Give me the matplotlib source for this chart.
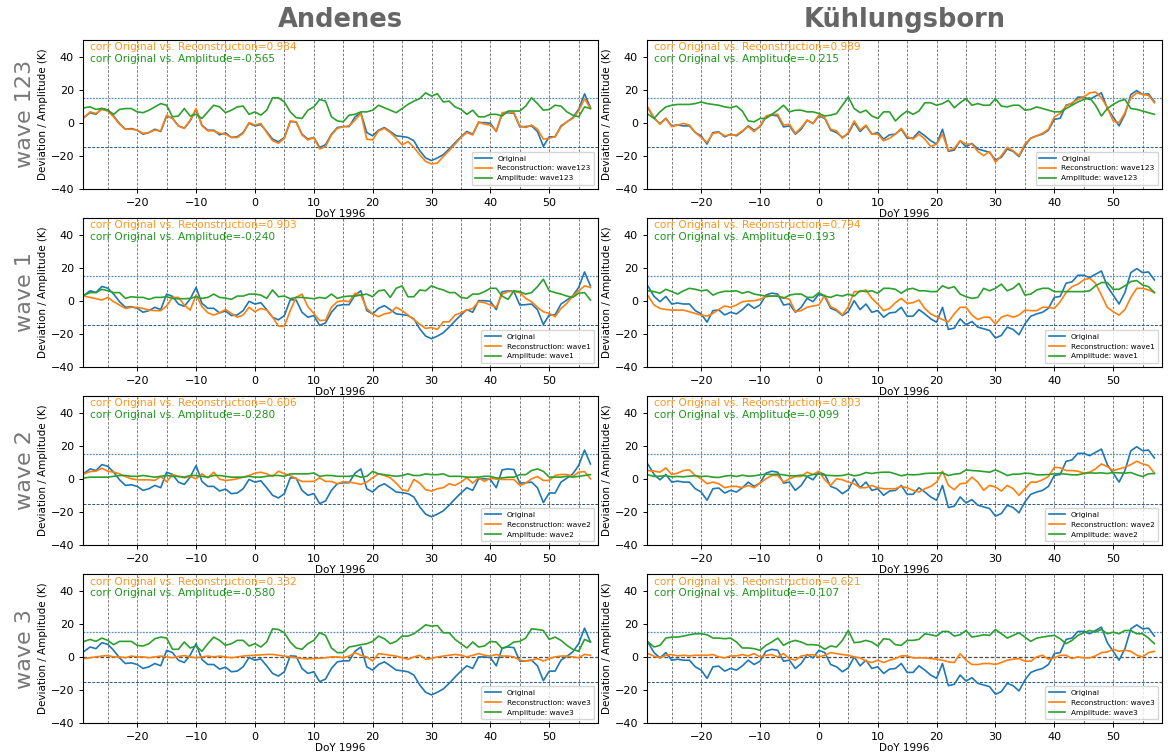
import numpy as np
import matplotlib
matplotlib.use("Agg")
import matplotlib.pyplot as plt

days = np.arange(-29, 58)

stations = ["Andenes", "Kühlungsborn"]
waves = ["wave123", "wave1", "wave2", "wave3"]
row_labels = ["wave 123", "wave 1", "wave 2", "wave 3"]

and_orig = [3.4, 6, 5, 8.6, 7.6, 4, -0.6, -4, -3.6, -4.6,
            -7, -6, -4, -5.4, 4, 2.6, -2, -3.4, 1, 8,
            -1.6, -4.6, -4.6, -7.4, -6.2, -9, -8.6, -6, -0.4, -2,
            -1.2, -5.4, -10, -11.6, -9, 0.6, 0.4, -7, -10, -9,
            -15, -13.4, -7, -3, -2.4, -2.4, 3.4, 6, -6, -8,
            -4.6, -3, -5.4, -8, -8.4, -9, -11, -17, -21.4, -23,
            -21.4, -19.4, -16, -12.2, -8.6, -5.4, -7, 0, 0, -0.4,
            -5.4, 5.4, 6, 5.6, -2.6, -2.4, -2, -5.4, -14.4, -8.6,
            -8.6, -2, 0.4, 3, 8, 17.4, 9]

and_rec123 = [3, 6.5, 5.5, 8, 7, 3.5, -1, -4, -4, -4.5,
              -6.5, -6, -4.5, -5, 4.5, 2.5, -2, -3.5, 1.5, 8.5,
              -2, -5, -5, -6.5, -7, -9, -9, -6.5, 0, -1.5,
              -0.5, -6, -11, -12.5, -9.5, 1, 0.5, -7.5, -10.5, -9,
              -16, -14.5, -7.5, -3.5, -2.5, -2, 1.5, 5.5, -10, -10.5,
              -5, -3.5, -6, -9.5, -13.5, -11.5, -15, -19.5, -23.5, -25,
              -24.5, -20.5, -17, -13, -9, -6, -7.5, 0.5, -1, -1.5,
              -5, 6, 6.5, 6, -2, -3, -1.5, -4, -10, -9.5,
              -8.5, -2.5, 0.5, 2.5, 7, 14.5, 8.5]

and_amp123 = [9, 9.5, 8, 8.5, 7.5, 5, 8, 8.5, 8.5, 6.5,
              6, 7.5, 9.5, 11.5, 10.5, 3.5, 4, 8.5, 4, 5,
              2.5, 6.5, 10.5, 9.5, 6, 7.5, 9.5, 10, 5, 6.5,
              4.5, 7.5, 15, 15, 12.5, 6.5, 3, 2.5, 7.5, 9.5,
              14, 13, 3.5, 1, 0.5, 4.5, 5, 6.5, 6.5, 7.5,
              10.5, 9, 7.5, 6, 8.5, 11, 13, 14.5, 18, 16,
              17.5, 12.5, 13, 9.5, 8, 5, 7.5, 3.5, 3.5, 5,
              5, 4, 7, 7, 7, 10, 15, 11.5, 7.5, 8,
              10.5, 10, 6.5, 4.5, 3.5, 9.5, 8.5]

and_rec1 = [2.8, 2, 1.2, 0.4, 2, -0.6, -2.6, -4.7, -4, -4,
            -4.7, -5.7, -6, -6, -3.2, 2, 2, -2.6, -5.7, 3.4,
            -3.6, -7.3, -8.7, -7.3, -5.3, -7.7, -10, -8.7, -4, -6.7,
            -4.7, -5.7, -10, -15.4, -15.4, -6, 2, 4, -3.6, -7.7,
            -12, -11.8, -4, -0.6, 0, -0.6, 4.5, 3.4, -4.7, -8,
            -9.7, -8, -7.3, -4, -6, -8.7, -11.4, -14.2, -16.8, -16.2,
            -17.4, -12.8, -12.8, -8.7, -7.3, -5.7, -4.7, -0.6, -1.2, -2.6,
            -4, 4, 5.5, 5.5, 4.9, 1.4, -0.6, -4, -6.7, -7.7,
            -9.7, -4.7, -1.6, 2.8, 6, 9, 8]

and_amp1 = [3.4, 4.9, 4.9, 6.9, 6, 4.9, 4.9, 1.4, 2.4, 2,
            2, 0.8, 2, 2, 2.4, 1.4, 1.2, 1.2, 1.4, 2.4,
            1.4, 2, 4, 2, 1.6, 0.8, 2.8, 2.8, 4, 4,
            3.4, 1.4, 6.5, 2.4, 2.8, 1.2, 2, 2, 1.6, 1.2,
            2, 1.4, 4, 1.4, 2.4, 2.8, 2.8, 3.4, 4, 2.4,
            6, 6.5, 2, 7.5, 9, 2.4, 2.4, 6.5, 6, 9,
            7.5, 6.5, 4.9, 4.9, 2, 1.4, 4, 4, 5.5, 7.5,
            7.5, 2.8, 0.8, 6, 5.5, 4, 4.9, 8.5, 13, 6,
            4.9, 4, 2.8, 2, 4.5, 4.9, 0.4]

and_rec2 = [3, 4.4, 4.6, 6.4, 4.6, 4, 3, 1.4, 0, -0.6,
            -0.6, -0.6, -1, 1.4, -1.8, 2.6, 1.4, 0.6, 1.4, 0,
            3, 0.6, 4, -0.2, -1, -0.6, 0, 1, 2, 3.4,
            4, 3, 1.4, 4.6, 3, 2, 0, -1.6, -1.6, -1.6,
            0.6, -1.6, -1.6, -3, -1.8, -2, -2.6, -3.4, -2, 0.6,
            3, 2, 0.6, -2.6, -6.6, -7.4, -0.4, -2.6, -6.6, -7.4,
            -6, -5.4, -3, -4, -2, 0.6, -2.6, 0.6, -1.6, 0.4,
            -0.2, -0.4, -0.4, -0.4, -4, -2.6, 0, 1.4, -1, -1,
            2, 2.6, 2.6, 1.4, 4, 4.4, 0]

and_amp2 = [0.5, 1, 1, 1, 1, 1.5,
            2, 2, 1.5, 1.5, 2, 1.5, 1, 1.5, 2,
            1.5, 1.5, 1, 2, 2, 1.5, 1, 2, 2, 1.5,
            1, 1, 1, 1.5, 1, 1, 1.5, 2, 2, 1.5,
            3, 3, 3, 3, 3.5, 1.5, 2, 2, 1.5, 1.5,
            1.5, 2, 1, 1.5, 4.5, 3, 2.5, 2, 1.5, 2,
            3, 2, 2, 3, 2.5, 2.5, 3, 1.5, 1.5, 1.5,
            1, 1, 1, 1.5, 1.5, 0.5, 0.5, 1, 1, 2.5,
            2.5, 5, 6, 4.5, 1, 1, 1, 1.5, 1, 1.5, 2, 2.5]

and_rec3 = [-1, -0.5, 0, 0.5, 0.8, 0,
            0, -0.5, 0.5, 0, 0, -0.5, 0, 0.5, 0,
            -0.5, 0.3, 0.8, 0, -0.5, 0, 0.5, 0, 0.5, 0,
            -0.5, 0, 0.5, 0.8, 1, 1.2, 1.5, 1.5, 1, 0.5,
            0, -0.5, -1, -1.2, -1, -0.8, -0.5, 0, 0, -0.5,
            0.5, 2.5, 1, 0, -2.5, 2, 1.5, 1, 0.5, -0.5,
            -1.5, 0, 1, -1.5, -1, 0, 0.5, 1, 1.5, 1,
            0, 1, 2, 1, 0.5, 1.5, 0.5, 0.5, 0, -2,
            -2.5, -2, -1, -2.5, -1, 0, 0.5, 0.5, 0, -0.5, 1.5, 1]

and_amp3 = [9.4, 10.6, 9.4, 11.4, 10, 7.4, 9.4, 9.4, 9.4, 7,
            6.6, 8, 11, 12, 11.4, 4.6, 4.6, 9, 5.4, 6.6,
            3.4, 8, 12, 10, 7, 8, 10, 10, 6.6, 8,
            6, 9, 17, 16.6, 14.6, 9, 5.4, 4.6, 8, 10,
            14.6, 13, 5.4, 2.6, 2.6, 6, 6.6, 7.4, 8, 9.4,
            12.6, 11, 8, 9.4, 12.6, 12.6, 14, 16.6, 19.4, 18.6,
            19, 14.6, 14.6, 10.6, 8, 5.4, 9, 6, 6.6, 9.4,
            9, 5, 6.6, 9, 9.4, 11.4, 17, 16.6, 16, 10.6,
            12, 10, 7, 4.6, 3.4, 10.6, 9]

kub_orig = [8.6, 2.6, -0.6, 2.6, -2, -1.4, -2, -2, -6, -8,
            -13, -6, -5.6, -8.6, -7, -8, -5.4, -2, -4.6, -2.6,
            3.4, 4.6, 4, -2.6, -2, -7, -4, 1.4, -0.6, 4,
            2.6, -4.6, -6, -9, -6.6, 0, -5.4, -2, -7, -6,
            -10, -7.4, -7, -4, -9.4, -9.4, -5.4, -8, -11, -13,
            -4, -17.4, -16.6, -11, -14.6, -12.6, -16, -17, -18, -22.6,
            -21, -16, -17.4, -20.6, -14, -9.4, -8, -7, -4.6, 2,
            2.6, 10.6, 11.4, 15.4, 15.4, 14, 16, 18, 8.6, 3.4,
            -2, 5, 17, 19.4, 17, 17.4, 12.6]

kub_rec123 = [9, 3, -1, 2.5, -2.5, -1.5, -0.5, -1.5, -6, -9,
              -12, -6.5, -6, -8, -7.5, -7.5, -5, -2.5, -5.5, -2,
              4, 5, 5, -1.5, -1, -6.5, -3, 1.5, -0.5, 4.5,
              3, -4, -5, -9.5, -6, 1, -4.5, -1.5, -7, -7,
              -11, -9.5, -7, -3.5, -8.5, -10, -7, -10, -14.5, -13,
              -7, -17, -15.5, -11, -13, -13, -17.5, -20, -17.5, -24,
              -20, -15, -17, -20, -13, -9.5, -8, -6.5, -4, 3.5,
              5.5, 10, 12, 14, 15.5, 18, 18.5, 15, 9, 1,
              0, 6, 15, 18, 17, 16.5, 12]

kub_amp123 = [5, 2.5, 6.5, 9.5, 10.5, 11, 11, 11, 11.5, 12.5,
              11.5, 11, 10.5, 9.5, 9, 10, 7, 1, 0.5, 2.5,
              2.5, 5, 7.5, 10.5, 6.5, 7.5, 7.5, 6.5, 6.5, 5.5,
              4, 4.5, 5.5, 10.5, 15.5, 8.5, 6, 7.5, 4, 2.5,
              6.5, 6.5, 1, 4.5, 7, 5, 7, 12, 12, 10.5,
              11.5, 13.5, 9, 12, 14.5, 10.5, 11.5, 10.5, 10.5, 14.5,
              10, 9.5, 10.5, 10.5, 7.5, 8, 9.5, 8.5, 7.5, 6.5,
              6.5, 8.5, 10.5, 12.5, 14, 15, 10.5, 4, 8.5, 11,
              13, 14, 8.5, 8, 7, 6, 5]

kub_rec1 = [2.8, -2.6, -4.7, -5.3, -5.7, -5.7, -5.7, -6.7, -7.7, -8.7,
            -9.3, -7.7, -5.3, -3.2, -4, -2.6, -0.6, -0.2, 0, 0.8,
            2.4, 2.8, 2.8, 2, 0.8, -6.7, -6, -4, -3.2, -2.6,
            3.4, -3.6, -5.3, -8.7, -3.6, 5.5, 5.5, 6.5, 1.4, -2,
            -6, -4.7, -1.2, 1.4, -1.6, -1.2, 0.4, -4.7, -8, -9.7,
            -11.4, -12.8, -8, -4, -4, -8.7, -11.4, -10, -10, -14.2,
            -10, -8.7, -10, -8.7, -5.7, -6, -6, -4, -4, -4.7,
            -0.6, 4.9, 8.5, 10, 12.6, 13.6, 10.5, 3.4, -4, -6.7,
            -8.7, -5.3, 2, 7.5, 7.5, 6.5, 4.9]

kub_amp1 = [6, 5.5, 4.5, 6.9, 5.5, 4, 6, 7.5, 6.9, 6,
            6.5, 3.4, 4.9, 5.7, 5.7, 6, 4.5, 5.5, 4, 3.4,
            2.8, 2.8, 2.8, 1.4, 3.4, 4, 4, 2, 2, 4.9,
            2.8, 2, 3.4, 2.8, 4, 2.8, 6, 5.5, 6, 4.5,
            7.5, 7.5, 6.9, 4.5, 6.9, 7.5, 6, 6, 5.5, 5.5,
            9, 7.5, 8.5, 4, 2.4, 1.4, 2, 7.5, 6, 7.5,
            10, 6, 7.5, 10.5, 3.4, 4, 6.5, 7.5, 7.5, 5.5,
            5.5, 5.5, 5.5, 5.5, 5.5, 6, 9, 11, 11, 6.9,
            6.9, 9, 11.6, 12.2, 9.5, 8.5, 4.9]

kub_rec2 = [5, 4.6, 4, 6.6, 2.6, 3.4, 5, 5.4, 2, 0,
            -3, -2, -3, -5.4, -4.6, -4.6, -5.4, -4, -5.4, -2.6,
            0, 2, 2, -2, 0, 1.4, 1.4, 4, 2.6, 4.6,
            -0.6, -4, 0, -0.6, -2, -3, -5.4, -5.4, -4, -5.4,
            -6, -6, -6, -4.6, -5.4, -7, -8, -6, -4.6, -2,
            4.6, -4, -6.6, -3, -2.6, 1, -2, -7, -4, -5,
            -7.4, -4, -6, -10, -6, -2, -2, -0.6, 1.4, 7,
            6.6, 5, 5, 4.6, 3.4, 4, 6, 9, 7.4, 5,
            6, 7, 8.6, 10.6, 9, 8, 3.4]

kub_amp2 = [2.4, 1.4, 1.6, 1.8, 1.2, 1.4, 1.2, 1.6, 1.8, 1.4,
            1.6, 1, 0.8, 1.6, 2, 1.4, 2.2, 1.6, 1.8, 2.4,
            2.8, 2.6, 2.8, 2.4, 1.8, 1.8, 2.2, 1.6, 2.6, 2.8,
            2.2, 2, 1.8, 2, 2.8, 1.8, 2.4, 3.8, 3.2, 3.8,
            4, 4, 3, 1.8, 2.6, 2.4, 2.6, 3.2, 3.4, 3.4,
            3.6, 2, 2.8, 3.2, 5.4, 5, 4.8, 4.4, 4, 5.4,
            3.8, 2, 2.8, 2.8, 3.4, 3.2, 2.4, 2.4, 2.6, 3,
            3.2, 2.8, 2.4, 2.4, 3.2, 3.6, 3.4, 3.6, 3.2, 3.8,
            3.6, 3.4, 3.8, 2.4, 1.4, 3, 3.2]

kub_rec3 = [2, 0.4, -0.6, 1, 1.4, 0.6, 1, 0.6, 1, 1,
            1, 1.4, 0, -0.6, 0.6, 0.6, 1.4, 0.6, 2, 0,
            1, 1.4, 0, 2, -1, -2, 0.6, 1, 1.4, 0,
            1, 2.6, 2, 1.4, 1, 0, -0.6, -2.6, -3.4, -2,
            -3.4, -2, -1, 0.6, 0.6, -0.6, -0.6, -0.6, -1, -1.4,
            -2, -3, -3.4, 2, -2, -4.6, -4.6, -4, -4, -4.6,
            -3.4, -2, -1.4, -1, -2.6, -2.6, 0, 1, -1.4, -0.6,
            1, 1, -1, 0, -0.6, -0.6, 0.6, 2.6, 3, 4.6,
            3.4, 4, 3.4, 1, 0, 2.6, 3.4]

kub_amp3 = [9, 6, 7, 11.4, 12, 12, 12.6, 13.4, 14, 14,
            13.4, 11.4, 11.4, 11, 11.4, 9, 5.4, 5.4, 5, 4,
            7, 9, 11.4, 7, 9, 10, 9, 7.4, 7.4, 7,
            4.6, 6.6, 6, 10, 16, 8.6, 9, 10, 9, 6.6,
            11, 10.6, 7.4, 7, 10, 10, 10.6, 14, 13.4, 12.6,
            15.4, 15.4, 12.6, 13.4, 16, 12, 12.6, 13.4, 13, 16.6,
            14, 11.4, 13, 14.6, 12, 9.4, 11.4, 12, 12.6, 13,
            11, 8, 10, 13, 14.6, 16, 15, 16.6, 14, 15,
            14, 16, 16, 14, 14, 11.4, 8]

originals = [and_orig, kub_orig]
recons = [[and_rec123, and_rec1, and_rec2, and_rec3],
          [kub_rec123, kub_rec1, kub_rec2, kub_rec3]]
amps = [[and_amp123, and_amp1, and_amp2, and_amp3],
        [kub_amp123, kub_amp1, kub_amp2, kub_amp3]]
corr_rec = [[0.984, 0.903, 0.606, 0.332], [0.989, 0.794, 0.803, 0.621]]
corr_amp = [[-0.565, -0.240, -0.280, -0.580], [-0.215, 0.193, -0.099, -0.107]]

vlines = np.arange(-25, 60, 5)

fig, axes = plt.subplots(4, 2, figsize=(11.68, 7.52), dpi=100)
fig.subplots_adjust(left=0.0711, right=0.9949, bottom=0.0386, top=0.9468,
                    wspace=0.095, hspace=0.198)

for c in range(2):
    for r in range(4):
        ax = axes[r, c]
        for v in vlines:
            ax.axvline(v, color='0.4', ls=(0, (3, 2)), lw=0.6, zorder=0)
        ax.axhline(15, color='#5b8fc7', ls=(0, (1.5, 1)), lw=0.9, zorder=0)
        ax.axhline(-15, color='#2a5a8c', ls=(0, (3, 1.5)), lw=0.7, zorder=0)
        if r == 3:
            ax.axhline(0, color='0.3', ls=(0, (3, 1.5)), lw=0.9, zorder=0)
        ax.plot(days, originals[c], color='C0', lw=1.2, label='Original')
        ax.plot(days, recons[c][r], color='C1', lw=1.2,
                label='Reconstruction: ' + waves[r])
        ax.plot(days, amps[c][r], color='C2', lw=1.2,
                label='Amplitude: ' + waves[r])
        ax.set_xlim(-29.2, 58.3)
        ax.set_ylim(-40, 50)
        ax.set_yticks([-40, -20, 0, 20, 40])
        ax.set_xticks(np.arange(-20, 60, 10))
        ax.tick_params(labelsize=8, length=3, width=0.7)
        ax.set_ylabel('Deviation / Amplitude (K)', fontsize=7.5, labelpad=2)
        ax.set_xlabel('DoY 1996', fontsize=7.5, labelpad=1)
        ax.text(0.013, 0.985, 'corr Original vs. Reconstruction=%.3f' % corr_rec[c][r],
                transform=ax.transAxes, color='#ff9620', fontsize=7.6, va='top', ha='left')
        ax.text(0.013, 0.905, 'corr Original vs. Amplitude=%.3f' % corr_amp[c][r],
                transform=ax.transAxes, color='#1f951f', fontsize=7.6, va='top', ha='left')
        ax.legend(loc='lower right', fontsize=5.3, handlelength=2.2,
                  borderpad=0.5, labelspacing=0.5)
        for s in ax.spines.values():
            s.set_linewidth(0.8)

for c in range(2):
    pos = axes[0, c].get_position()
    fig.text((pos.x0 + pos.x1) / 2, 0.973, stations[c], ha='center', va='center',
             fontsize=18.5, fontweight='bold', color='#666666')

for r in range(4):
    pos = axes[r, 0].get_position()
    fig.text(0.021, (pos.y0 + pos.y1) / 2, row_labels[r], rotation=90,
             ha='center', va='center', fontsize=16, color='#777777')

fig.savefig('out.png', dpi=100)
